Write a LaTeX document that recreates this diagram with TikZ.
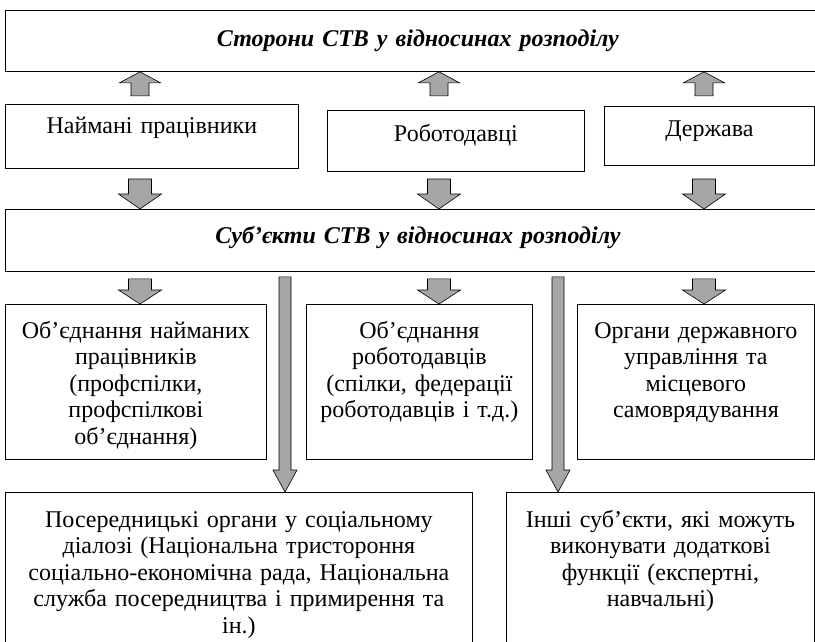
\documentclass[tikz,border=0pt]{standalone}
\usepackage{fontspec}
\setmainfont{Liberation Serif}
\usetikzlibrary{calc}

% block arrow: tail, tip, half stem, half head, head length
\newcommand{\blockarrow}[5]{%
  \coordinate (bt) at (#1);
  \coordinate (bp) at (#2);
  \coordinate (bh) at ($(bp)!#5!(bt)$);
  \draw [blk] ($(bt)!#3!90:(bp)$) -- ($(bh)!#3!90:(bp)$) -- ($(bh)!#4!90:(bp)$)
    -- (bp) -- ($(bh)!#4!-90:(bp)$) -- ($(bh)!#3!-90:(bp)$) -- ($(bt)!#3!-90:(bp)$) -- cycle;
}

\begin{document}
\begin{tikzpicture}[x=1pt,y=-1pt,
    box/.style={draw, line width=0.8pt, inner sep=0pt, align=center, anchor=north west,
      font=\fontsize{24}{26.5}\selectfont},
    title/.style={box, font=\fontsize{24}{26.5}\selectfont\bfseries\itshape},
    blk/.style={fill=gray!70, draw=black, line width=0.6pt, line join=miter}]

    \useasboundingbox (0,0) rectangle (815,641);
    \clip (0,0) rectangle (815,641);

    \node [title, text width=825pt, text height=36pt, text depth=25pt] (sides) at (5,10)
      {Сторони СТВ у відносинах розподілу};

    \node [box, text width=293pt, text height=29pt, text depth=35pt] (naim) at (5,104) {Наймані працівники};
    \node [box, text width=257pt, text height=31pt, text depth=30pt] (rob) at (327,110) {Роботодавці};
    \node [box, text width=210pt, text height=30pt, text depth=29pt] (derzh) at (604,106) {Держава};

    \node [title, text width=825pt, text height=34pt, text depth=28pt] (subj) at (5,209)
      {Суб’єкти СТВ у відносинах розподілу};

    \node [box, text width=261pt, text height=34pt, text depth=121pt] (obnaim) at (5,304)
      {Об’єднання найманих\\ працівників\\ (профспілки,\\ профспілкові\\ об’єднання)};
    \node [box, text width=226pt, text height=34pt, text depth=121pt] (obrob) at (306,304)
      {Об’єднання\\ роботодавців\\ (спілки, федерації\\ роботодавців і т.д.)};
    \node [box, text width=237pt, text height=34pt, text depth=121pt] (organy) at (577,304)
      {Органи державного\\ управління та\\ місцевого\\ самоврядування};

    \node [box, text width=467pt, text height=35pt, text depth=135pt] (poser) at (5,492)
      {Посередницькі органи у соціальному\\ діалозі (Національна тристороння\\
       соціально-економічна рада, Національна\\ служба посередництва і примирення та\\ ін.)};
    \node [box, text width=308pt, text height=35pt, text depth=135pt] (inshi) at (506,492)
      {Інші суб’єкти, які можуть\\ виконувати додаткові\\ функції (експертні,\\ навчальні)};

    \foreach \x/\n in {140/1, 439/2, 704/3}
      \coordinate (c\n) at (\x,0);
    \coordinate (d1) at (285,0);
    \coordinate (d2) at (558,0);

    \foreach \n in {1,2,3} {
      \blockarrow{$(c\n |- sides.south)+(0,24)$}{c\n |- sides.south}{9pt}{20.5pt}{11pt}
      \blockarrow{$(c\n |- subj.north)+(0,-30)$}{c\n |- subj.north}{11.5pt}{21.5pt}{15pt}
      \blockarrow{$(c\n |- subj.south)+(0,7)$}{c\n |- obnaim.north}{11.5pt}{21.5pt}{14pt}
    }

    \foreach \n in {1,2} {
      \blockarrow{$(d\n |- subj.south)+(0,5)$}{d\n |- poser.north}{6pt}{12pt}{22pt}
    }

\end{tikzpicture}
\end{document}
